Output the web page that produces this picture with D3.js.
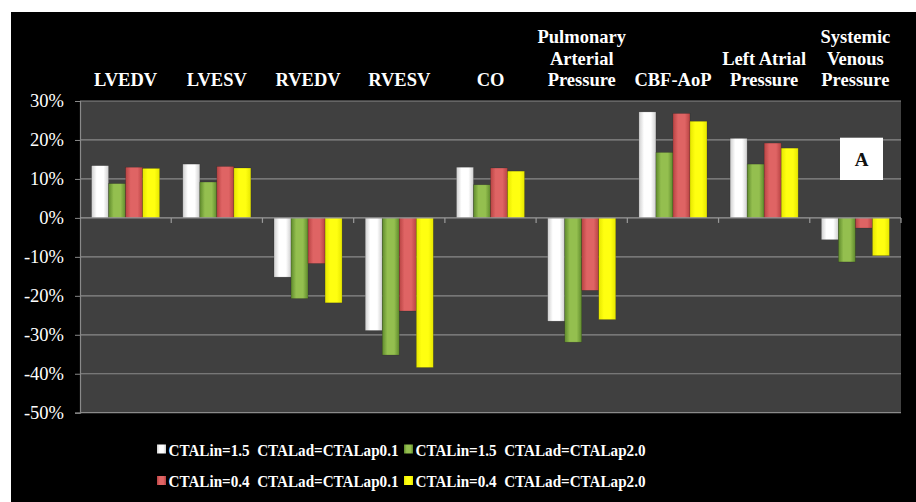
<!DOCTYPE html>
<html>
<head>
<meta charset="utf-8">
<script src="https://cdn.jsdelivr.net/npm/d3@7"></script>
<style>
  body { margin: 0; background: #fff; }
  svg { display: block; }
  text { font-family: "Liberation Serif", "Times New Roman", serif; }
</style>
</head>
<body>
<div id="chart"></div>
<script>
// categories (multi-line labels)
const categories = [
    ['LVEDV'], ['LVESV'], ['RVEDV'], ['RVESV'], ['CO'],
    ['Pulmonary', 'Arterial', 'Pressure'], ['CBF-AoP'],
    ['Left Atrial', 'Pressure'], ['Systemic', 'Venous', 'Pressure']
];
const seriesNames = [
    'CTALin=1.5  CTALad=CTALap0.1',
    'CTALin=1.5  CTALad=CTALap2.0',
    'CTALin=0.4  CTALad=CTALap0.1',
    'CTALin=0.4  CTALad=CTALap2.0'
];
// percent change per category, one array per series
const lin15ap01 = [13.4, 13.8, -15.2, -28.9, 13.0, -26.5, 27.2, 20.4, -5.6];
const lin15ap20 = [8.8, 9.2, -20.7, -35.2, 8.5, -31.9, 16.8, 13.8, -11.3];
const lin04ap01 = [13.0, 13.2, -11.7, -23.9, 12.8, -18.6, 26.8, 19.2, -2.6];
const lin04ap20 = [12.7, 12.8, -21.8, -38.4, 12.0, -26.1, 24.8, 17.9, -9.7];
const yTicks = [30, 20, 10, 0, -10, -20, -30, -40, -50];

const series = [lin15ap01, lin15ap20, lin04ap01, lin04ap20];
const colors = [
    ['#cfcfcf', '#ffffff'],
    ['#5f8a2c', '#94bf4f'],
    ['#b84343', '#df6464'],
    ['#e6e600', '#ffff10']
];

const W = 916, H = 502;
const svg = d3.select('#chart').append('svg')
    .attr('width', W).attr('height', H);

svg.append('rect').attr('x', 11).attr('y', 12)
    .attr('width', W - 11).attr('height', H - 12).attr('fill', '#000');

const plot = { left: 80, right: 901, top: 101, bottom: 412.7 };

const x = d3.scaleBand().domain(d3.range(categories.length))
    .range([plot.left, plot.right]).padding(0);
const xInner = d3.scaleBand().domain(d3.range(series.length))
    .range([0, x.bandwidth()]).paddingInner(0).paddingOuter(0.68);
const y = d3.scaleLinear().domain([-50, 30]).range([plot.bottom, plot.top]);

const defs = svg.append('defs');
colors.forEach((c, i) => {
    const g = defs.append('linearGradient').attr('id', 'g' + i)
        .attr('x1', 0).attr('x2', 1).attr('y1', 0).attr('y2', 0);
    g.append('stop').attr('offset', '0%').attr('stop-color', c[0]);
    g.append('stop').attr('offset', '30%').attr('stop-color', c[1]);
    g.append('stop').attr('offset', '70%').attr('stop-color', c[1]);
    g.append('stop').attr('offset', '100%').attr('stop-color', c[0]);
});

svg.append('rect')
    .attr('x', plot.left).attr('y', plot.top)
    .attr('width', plot.right - plot.left).attr('height', plot.bottom - plot.top)
    .attr('fill', '#404040');

// gridlines
svg.append('g').selectAll('line').data(yTicks.filter(d => d !== 0)).join('line')
    .attr('x1', plot.left).attr('x2', plot.right)
    .attr('y1', d => y(d)).attr('y2', d => y(d))
    .attr('stroke', '#8a8a8a').attr('stroke-width', 1.2);

// y axis
const yAxis = svg.append('g').attr('transform', `translate(${plot.left},0)`)
    .call(d3.axisLeft(y).tickValues(yTicks).tickSize(5).tickFormat(d => d + '%'));
yAxis.attr('font-family', null);
yAxis.select('.domain').attr('stroke', '#8a8a8a').attr('stroke-width', 1.2);
yAxis.selectAll('.tick line').attr('stroke', '#8a8a8a');
yAxis.selectAll('.tick text').attr('fill', '#fff')
    .attr('font-size', 18.5).attr('x', -16);

// bars
const groups = svg.append('g').selectAll('g').data(series).join('g')
    .attr('fill', (d, i) => `url(#g${i})`);
groups.each(function(vals, si) {
    d3.select(this).selectAll('rect').data(vals).join('rect')
        .attr('x', (d, ci) => x(ci) + xInner(si))
        .attr('width', xInner.bandwidth())
        .attr('y', d => y(Math.max(0, d)))
        .attr('height', d => Math.abs(y(d) - y(0)))
        .attr('stroke', 'rgba(0,0,0,0.25)').attr('stroke-width', 0.6);
});

// zero axis with category ticks
const xAxis = svg.append('g').attr('transform', `translate(0,${y(0)})`);
xAxis.append('line').attr('x1', plot.left).attr('x2', plot.right)
    .attr('stroke', '#9a9a9a').attr('stroke-width', 1.2);
xAxis.selectAll('line.t').data(d3.range(1, categories.length + 1)).join('line')
    .attr('class', 't')
    .attr('x1', d => plot.left + d * x.bandwidth()).attr('x2', d => plot.left + d * x.bandwidth())
    .attr('y1', 0).attr('y2', 5)
    .attr('stroke', '#9a9a9a').attr('stroke-width', 1.2);

// category labels above plot
const lineH = 21.5;
svg.append('g').selectAll('text').data(categories).join('text')
    .attr('x', (d, i) => x(i) + x.bandwidth() / 2)
    .attr('y', d => 86 - (d.length - 1) * lineH)
    .attr('text-anchor', 'middle')
    .attr('fill', '#fff').attr('font-weight', 'bold').attr('font-size', 18.5)
    .selectAll('tspan').data(d => d).join('tspan')
    .attr('x', function() { return d3.select(this.parentNode).attr('x'); })
    .attr('dy', (d, i) => i === 0 ? 0 : lineH)
    .text(d => d);

// "A" panel tag
svg.append('rect').attr('x', 840).attr('y', 137.7).attr('width', 43).attr('height', 42.3)
    .attr('fill', '#fff');
svg.append('text').attr('x', 861.5).attr('y', 166).attr('text-anchor', 'middle')
    .attr('font-weight', 'bold').attr('font-size', 19).attr('fill', '#111').text('A');

// legend
const legendPos = [[157, 449.5], [404, 449.5], [157, 481], [404, 481]];
const legend = svg.append('g').selectAll('g').data(seriesNames).join('g')
    .attr('transform', (d, i) => `translate(${legendPos[i][0]},${legendPos[i][1]})`);
legend.append('rect').attr('x', 0).attr('y', -5).attr('width', 9).attr('height', 9)
    .attr('fill', (d, i) => `url(#g${i})`);
legend.append('text').attr('x', 11.5).attr('y', 6)
    .attr('fill', '#fff').attr('font-weight', 'bold').attr('font-size', 17)
    .attr('textLength', 230).attr('lengthAdjust', 'spacingAndGlyphs')
    .attr('xml:space', 'preserve').style('white-space', 'pre')
    .text(d => d);
</script>
</body>
</html>
